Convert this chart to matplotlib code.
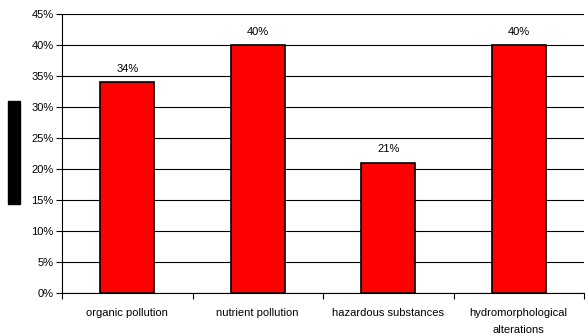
import matplotlib
matplotlib.use("Agg")
import matplotlib.pyplot as plt
from matplotlib.patches import Rectangle
import numpy as np

categories = ["organic pollution", "nutrient pollution", "hazardous substances",
              "hydromorphological\nalterations"]
values = [34, 40, 21, 40]
labels = ["34%", "40%", "21%", "40%"]
yticks = [0, 5, 10, 15, 20, 25, 30, 35, 40, 45]

plt.rcParams['font.family'] = ['Liberation Sans', 'DejaVu Sans']

fig = plt.figure(figsize=(5.87, 3.35), dpi=100)
ax = fig.add_axes([62/587, 42/335, 522/587, 279/335])

x = np.arange(len(categories))
bars = ax.bar(x, values, width=0.41, color='#ff0000', edgecolor='black', linewidth=1.2, zorder=3)

for b, lab in zip(bars, labels):
    ax.annotate(lab, (b.get_x() + b.get_width()/2, b.get_height()),
                xytext=(0, 6), textcoords='offset points', ha='center', va='bottom', fontsize=8)

ax.set_xlim(-0.5, len(categories) - 0.5)
ax.set_ylim(0, 45)
ax.set_yticks(yticks)
ax.set_yticklabels([f"{t}%" for t in yticks], fontsize=8)
ax.yaxis.grid(True, color='black', linewidth=0.8, zorder=0)
ax.set_axisbelow(True)

ax.set_xticks(x)
ax.set_xticklabels(categories, fontsize=8, linespacing=1.9)
ax.tick_params(axis='x', which='major', length=0, pad=11)
ax.set_xticks(np.arange(-0.5, len(categories) + 0.5, 1), minor=True)
ax.tick_params(axis='x', which='minor', length=4, width=0.8, direction='out')
ax.tick_params(axis='y', length=4, width=0.8, pad=2)

for s in ['top', 'right']:
    ax.spines[s].set_visible(False)
for s in ['left', 'bottom']:
    ax.spines[s].set_linewidth(0.8)

fig.patches.append(Rectangle((8/587, (335-204)/335), 12/587, 103/335,
                             transform=fig.transFigure, color='black', figure=fig))

fig.savefig("out.png", dpi=100)
